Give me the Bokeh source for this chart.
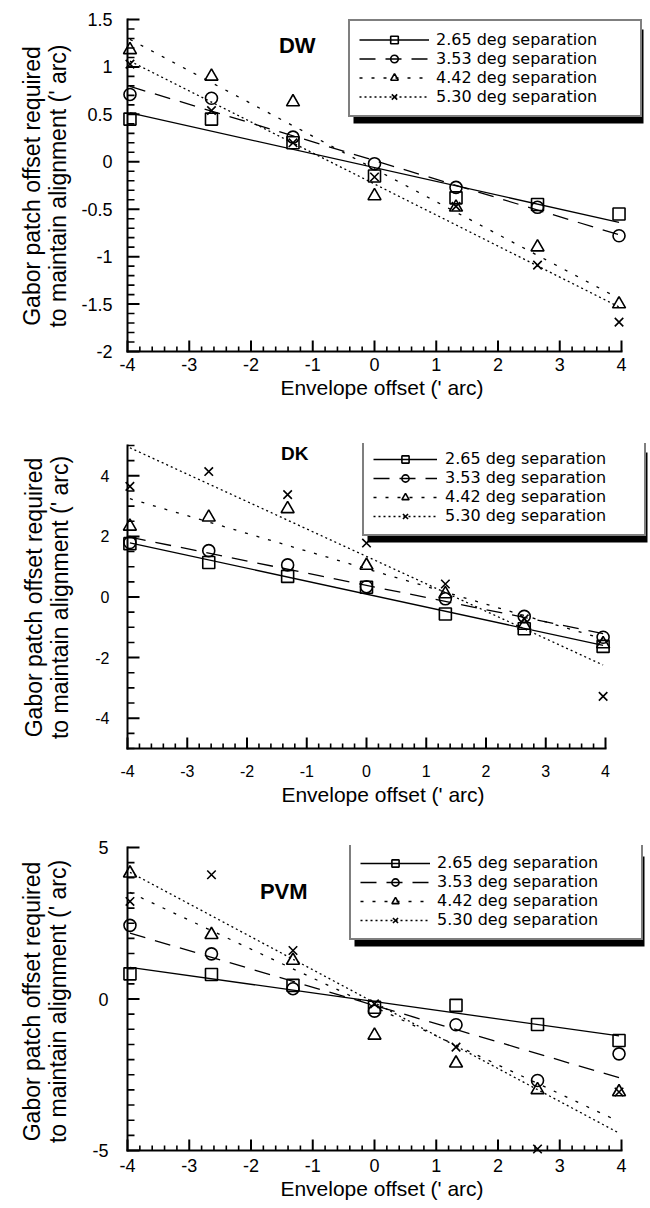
import numpy as np
from bokeh.plotting import figure
from bokeh.layouts import column
from bokeh.models import (Range1d, FixedTicker, CustomJSTickFormatter, Legend,
                          LegendItem, Label, BoxAnnotation)
from bokeh.embed import file_html
from bokeh.resources import INLINE

# ---------------- data ----------------
envelope_offset = [-3.96, -2.64, -1.32, 0.0, 1.32, 2.64, 3.96]
series_labels = ["2.65 deg separation", "3.53 deg separation",
                 "4.42 deg separation", "5.30 deg separation"]

x_ticks = [-4, -3, -2, -1, 0, 1, 2, 3, 4]
dw_y_ticks = [-2, -1.5, -1, -0.5, 0, 0.5, 1, 1.5]
dk_y_ticks = [-4, -2, 0, 2, 4]
pvm_y_ticks = [-5, 0, 5]

dw_265 = [0.45, 0.45, 0.20, -0.15, -0.38, -0.45, -0.55]
dw_353 = [0.71, 0.67, 0.26, -0.02, -0.27, -0.48, -0.78]
dw_442 = [1.18, 0.90, 0.63, -0.36, -0.48, -0.90, -1.50]
dw_530 = [1.03, 0.54, 0.20, -0.16, -0.47, -1.09, -1.69]

dk_265 = [1.76, 1.14, 0.68, 0.32, -0.56, -1.05, -1.63]
dk_353 = [1.80, 1.53, 1.06, 0.34, -0.06, -0.64, -1.33]
dk_442 = [2.33, 2.63, 2.91, 1.04, 0.10, -0.94, -1.55]
dk_530 = [3.65, 4.14, 3.38, 1.78, 0.43, -0.72, -3.28]

pvm_265 = [0.83, 0.81, 0.45, -0.27, -0.21, -0.84, -1.37]
pvm_353 = [2.43, 1.49, 0.34, -0.40, -0.85, -2.69, -1.81]
pvm_442 = [4.15, 2.12, 1.27, -1.20, -2.12, -3.00, -3.07]
pvm_530 = [3.22, 4.10, 1.60, -0.16, -1.59, -4.95, -3.07]

# ---------------- styles ----------------
MARKERS = ["square", "circle", "triangle", "x"]
MSIZES = [12, 12, 13, 12]
DASHES = ["solid", "16 10", "3 9", "2 3"]
TICK_FONT = "Liberation Sans"
LEG_FONT = "DejaVu Sans"
TICK_COLOR = "black"
FRAME_RIGHT = 646      # page px where every frame ends (room for legend)

fmt = CustomJSTickFormatter(code="return (Math.round(tick*100)/100).toString();")

panels = [
    dict(name="DW", series=[dw_265, dw_353, dw_442, dw_530],
         y=(-2.0, 1.5), yticks=dw_y_ticks, yminor=0.1,
         ax_l=127, ax_r=621, ax_t=19, ax_b=351, pad_l=10, pad_t=2, pad_b=3,
         fig_t=0, fig_b=420,
         tick_fs="18px", ysto=5, xsto=3, ylsto=7, xlsto=2,
         title_xy=(-1.25, 1.23), title_fs="22px",
         leg=dict(left=348, top=23, gw=70, gh=19, sto=7, lw=195, pad=9)),
    dict(name="DK", series=[dk_265, dk_353, dk_442, dk_530],
         y=(-5.0, 5.0), yticks=dk_y_ticks, yminor=0.5,
         ax_l=125, ax_r=603, ax_t=445, ax_b=748, pad_l=10, pad_t=2, pad_b=3,
         fig_t=420, fig_b=820,
         tick_fs="16px", ysto=8, xsto=13, ylsto=19, xlsto=3,
         title_xy=(-1.2, 4.75), title_fs="19px",
         leg=dict(left=360, top=446, gw=64, gh=18, sto=8, lw=190, pad=9)),
    dict(name="PVM", series=[pvm_265, pvm_353, pvm_442, pvm_530],
         y=(-5.0, 5.0), yticks=pvm_y_ticks, yminor=0.5,
         ax_l=127, ax_r=621, ax_t=847, ax_b=1150, pad_l=10, pad_t=2, pad_b=7,
         fig_t=820, fig_b=1207,
         tick_fs="18px", ysto=9, xsto=1, ylsto=18, xlsto=2,
         title_xy=(-1.47, 3.55), title_fs="22px",
         leg=dict(left=349, top=850, gw=70, gh=18, sto=7, lw=195, pad=9)),
]


def make_panel(cfg):
    ylo, yhi = float(cfg["y"][0]), float(cfg["y"][1])
    pxx = (cfg["ax_r"] - cfg["ax_l"]) / 8.0
    pxy = (cfg["ax_b"] - cfg["ax_t"]) / (yhi - ylo)
    f_left = cfg["ax_l"] - cfg["pad_l"]
    f_top = cfg["ax_t"] - cfg["pad_t"]
    f_bot = cfg["ax_b"] + cfg["pad_b"]
    fw = FRAME_RIGHT - f_left
    fh = f_bot - f_top
    x0r = -4 - cfg["pad_l"] / pxx
    x1r = 4 + (FRAME_RIGHT - cfg["ax_r"]) / pxx
    y0r = ylo - cfg["pad_b"] / pxy
    y1r = yhi + cfg["pad_t"] / pxy

    p = figure(frame_width=fw, frame_height=fh,
               min_border_left=f_left, min_border_right=4,
               min_border_top=f_top - cfg["fig_t"], min_border_bottom=cfg["fig_b"] - f_bot,
               x_range=Range1d(x0r, x1r), y_range=Range1d(y0r, y1r),
               output_backend="svg", toolbar_location=None,
               background_fill_color="white", border_fill_color="white")
    p.outline_line_color = None
    p.grid.visible = False

    # ---- axis lines and inward ticks ----
    xmaj = [float(v) for v in x_ticks]
    xmin = [round(-4 + 0.2 * i, 4) for i in range(41)]
    xmin = [v for v in xmin if min(abs(v - m) for m in xmaj) > 1e-6]
    ymaj = [float(v) for v in cfg["yticks"]]
    n = int(round((yhi - ylo) / cfg["yminor"]))
    ymin = [round(ylo + cfg["yminor"] * i, 4) for i in range(n + 1)]
    ymin = [v for v in ymin if min(abs(v - m) for m in ymaj) > 1e-6]

    for vals, L, w in ((xmaj, 11, 2.0), (xmin, 5, 1.6)):
        p.multi_line(xs=[[v, v] for v in vals], ys=[[ylo, ylo + L / pxy] for v in vals],
                     line_color=TICK_COLOR, line_width=w)
    for vals, L, w in ((ymaj, 12, 2.0), (ymin, 7, 1.6)):
        p.multi_line(xs=[[-4.0, -4.0 + L / pxx] for v in vals], ys=[[v, v] for v in vals],
                     line_color=TICK_COLOR, line_width=w)
    p.multi_line(xs=[[-4.0, -4.0], [-4.0, 4.0]], ys=[[ylo, yhi], [ylo, ylo]],
                 line_color="black", line_width=2, line_cap="square")

    # ---- data ----
    xs = np.array(envelope_offset)
    items = []
    for i, ys in enumerate(cfg["series"]):
        ys = np.array(ys)
        k, b = np.polyfit(xs, ys, 1)
        ex = np.array([xs.min(), xs.max()])
        lr = p.line(ex, k * ex + b, line_color="black", line_width=1.3,
                    line_dash=DASHES[i])
        sr = p.scatter(xs, ys, marker=MARKERS[i], size=MSIZES[i], fill_color=None,
                       line_color="black", line_width=1.6)
        items.append(LegendItem(label=series_labels[i], renderers=[lr, sr]))

    # ---- Bokeh axes: labels only ----
    for ax in (p.xaxis, p.yaxis):
        ax.axis_line_color = None
        ax.major_tick_line_color = None
        ax.minor_tick_line_color = None
        ax.major_tick_in = 0
        ax.major_tick_out = 0
        ax.minor_tick_in = 0
        ax.minor_tick_out = 0
        ax.major_label_text_font = TICK_FONT
        ax.major_label_text_font_size = cfg["tick_fs"]
        ax.major_label_text_color = "black"
        ax.axis_label_text_font = TICK_FONT
        ax.axis_label_text_font_style = "normal"
        ax.axis_label_text_color = "black"
        ax.formatter = fmt

    p.xaxis.ticker = FixedTicker(ticks=x_ticks)
    p.xaxis.bounds = (-4, 4)
    p.xaxis.major_label_standoff = cfg["xsto"]
    p.xaxis.axis_label = "Envelope offset (' arc)"
    p.xaxis.axis_label_text_font_size = "21px"
    p.xaxis.axis_label_standoff = cfg["xlsto"]

    p.yaxis.ticker = FixedTicker(ticks=cfg["yticks"])
    p.yaxis.major_label_standoff = cfg["ysto"]
    p.yaxis.axis_label = "Gabor patch offset required\nto maintain alignment (' arc)"
    p.yaxis.axis_label_text_font_size = "23px"
    p.yaxis.axis_label_text_line_height = 1.0
    p.yaxis.axis_label_standoff = cfg["ylsto"]

    # ---- panel title ----
    tx, ty = cfg["title_xy"]
    p.add_layout(Label(x=tx, y=ty, text=cfg["name"], text_font=TICK_FONT,
                       text_font_style="bold", text_font_size=cfg["title_fs"],
                       text_align="center", text_baseline="middle", text_color="black"))

    # ---- legend with drop shadow ----
    L = cfg["leg"]
    W = 2 * L["pad"] + L["gw"] + L["sto"] + L["lw"]
    H = 2 * L["pad"] + 4 * L["gh"]
    lx = L["left"] - f_left
    ly = f_bot - (L["top"] + H)
    shadow = BoxAnnotation(left=lx + 5, right=lx + W + 5,
                           bottom=ly - 6, top=ly + H - 6,
                           left_units="screen", right_units="screen",
                           bottom_units="screen", top_units="screen",
                           fill_color="black", fill_alpha=1.0, line_color=None)
    p.add_layout(shadow)
    legend = Legend(items=items, location=(lx, ly), orientation="vertical",
                    glyph_width=L["gw"], glyph_height=L["gh"], label_height=L["gh"],
                    label_width=L["lw"], label_standoff=L["sto"], padding=L["pad"],
                    spacing=0, margin=0,
                    border_line_color="black", border_line_width=2,
                    background_fill_color="white", background_fill_alpha=1.0,
                    label_text_font=LEG_FONT, label_text_font_size="16px",
                    label_text_color="black")
    p.add_layout(legend, "center")
    return p


figs = [make_panel(c) for c in panels]
layout = column(*figs, spacing=0)
open("out.html", "w").write(file_html(layout, INLINE))
